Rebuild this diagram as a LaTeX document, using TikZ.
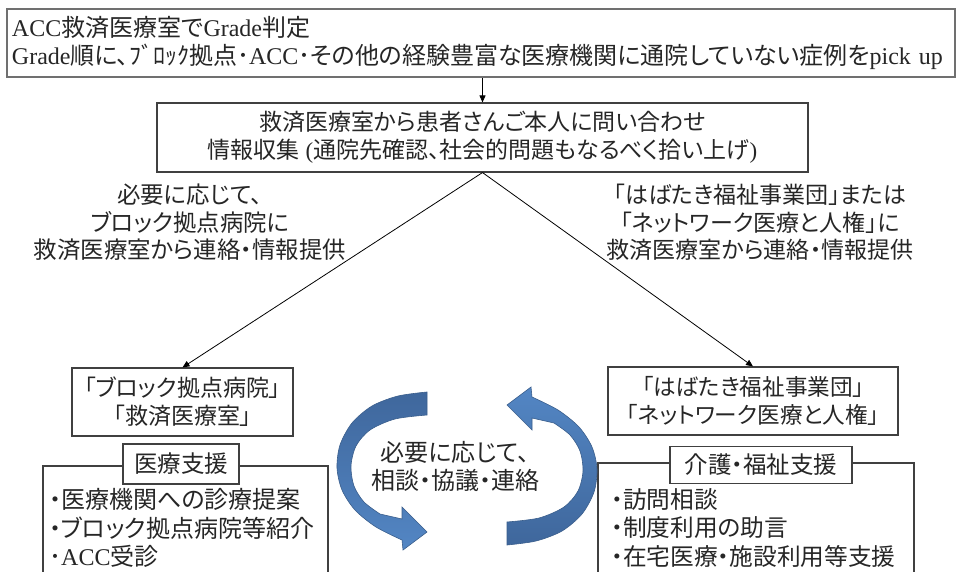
\documentclass[tikz,border=0pt]{standalone}
\usepackage{fontspec}
\setmainfont{Noto Sans CJK JP}[RawFeature=+palt]
\newfontfamily\latfont{Liberation Serif}
\newfontfamily\cjkfixed{Noto Sans CJK JP}
\usetikzlibrary{arrows.meta}
\definecolor{boxline}{HTML}{404040}
\definecolor{topline}{HTML}{707070}
\definecolor{txt}{HTML}{262626}
\definecolor{arrowdark}{HTML}{3F679C}
\definecolor{arrowlight}{HTML}{5386C4}
\definecolor{arrowedge}{HTML}{3A5E8C}
\begin{document}
\begin{tikzpicture}[x=1pt,y=-1pt,
  box/.style={draw=boxline, line width=1.1pt, fill=white, inner sep=0pt, align=center, text=txt},
  topbox/.style={draw=topline, line width=1.8pt, fill=white, inner sep=0pt, text=txt},
  plain/.style={inner sep=0pt, align=center, text=txt},
  conn/.style={draw=black, line width=0.8pt},
  tip/.style={-{Triangle[length=7pt,width=6pt]}},
  bluearrow/.style={draw=arrowedge, line width=0.6pt}]
\fill[white] (0,0) rectangle (956,572);
\useasboundingbox (0,0) rectangle (956,572);

% top box
\node[topbox, minimum width=948pt, minimum height=68pt, text width=938pt, align=left,
      inner xsep=5pt, font=\fontsize{24}{28.5}\selectfont] (top) at (481,43)
  {{\latfont ACC}救済医療室で{\latfont Grade}判定\\
   {\latfont Grade}順に、{\cjkfixed ﾌﾞﾛｯｸ}拠点{\cjkfixed ･}{\latfont ACC}{\cjkfixed ･}その他の経験豊富な医療機関に通院していない症例を{\latfont pick up}};

% info box
\node[box, minimum width=651pt, minimum height=69pt, font=\fontsize{23}{28}\selectfont] (info) at (482.5,137.5)
  {救済医療室から患者さんご本人に問い合わせ\\
   情報収集{\latfont\ (}通院先確認、社会的問題もなるべく拾い上げ{\latfont )}};

\draw[conn, tip] (info.north |- top.south) -- (info.north);

% labels
\node[plain, font=\fontsize{23.4}{27.5}\selectfont] (lab1) at (190,222.5)
  {必要に応じて、\\ブロック拠点病院に\\救済医療室から連絡・情報提供};
\node[plain, font=\fontsize{23}{27.5}\selectfont] (lab2) at (760,222.5)
  {「はばたき福祉事業団」または\\「ネットワーク医療と人権」に\\救済医療室から連絡・情報提供};

% organisation boxes
\node[box, minimum width=221pt, minimum height=68pt, font=\fontsize{23}{28}\selectfont] (lbox) at (182.5,402)
  {「ブロック拠点病院」\\「救済医療室」};
\node[box, minimum width=290pt, minimum height=68pt, font=\fontsize{22.6}{28}\selectfont] (rbox) at (753,401)
  {「はばたき福祉事業団」\\「ネットワーク医療と人権」};

\draw[conn, tip] (info.south) -- (lbox.north);
\draw[conn, tip] (info.south) -- (rbox.north);

% support boxes
\node[box, minimum width=285pt, minimum height=134pt] (lbig) at (185.5,533) {};
\node[box, minimum width=316pt, minimum height=137pt] (rbig) at (756,531.5) {};
\node[box, minimum width=116pt, minimum height=40pt, font=\fontsize{23.5}{28}\selectfont] (ltag) at (181,464) {医療支援};
\node[box, minimum width=182pt, minimum height=37pt, font=\fontsize{23.5}{28}\selectfont] (rtag) at (761,465) {介護・福祉支援};

\node[plain, align=left, anchor=west, font=\fontsize{24}{28.5}\selectfont] (litems) at (49,528)
  {・医療機関への診療提案\\・ブロック拠点病院等紹介\\{\cjkfixed ･}{\latfont ACC}受診};
\node[plain, align=left, anchor=west, font=\fontsize{23.7}{28.5}\selectfont] (ritems) at (611,528)
  {・訪問相談\\・制度利用の助言\\・在宅医療・施設利用等支援};

% circular arrows
\shadedraw[bluearrow, top color=arrowdark, bottom color=arrowlight]
  plot[smooth] coordinates {(427,392) (398,396) (372,406) (352,423) (340,445) (337,468) (342,490) (355,510) (376,527) (402,540)}
  -- (403,550) -- (427,532) -- (402,507) -- (402,519)
  -- plot[smooth] coordinates {(380,514) (364,502) (354,486) (351,466) (356,446) (370,430) (395,419) (427,415)}
  -- cycle;
\shadedraw[bluearrow, top color=arrowlight, bottom color=arrowdark]
  plot[smooth] coordinates {(507,545) (536,541) (562,531) (582,514) (594,492) (597,469) (592,447) (579,427) (558,410) (532,397)}
  -- (531,387) -- (507,405) -- (532,430) -- (532,418)
  -- plot[smooth] coordinates {(554,423) (570,435) (580,451) (583,471) (578,491) (564,507) (539,518) (507,522)}
  -- cycle;

\node[plain, font=\fontsize{24}{27.5}\selectfont] (mid) at (455,466.5) {必要に応じて、\\相談・協議・連絡};
\end{tikzpicture}
\end{document}
